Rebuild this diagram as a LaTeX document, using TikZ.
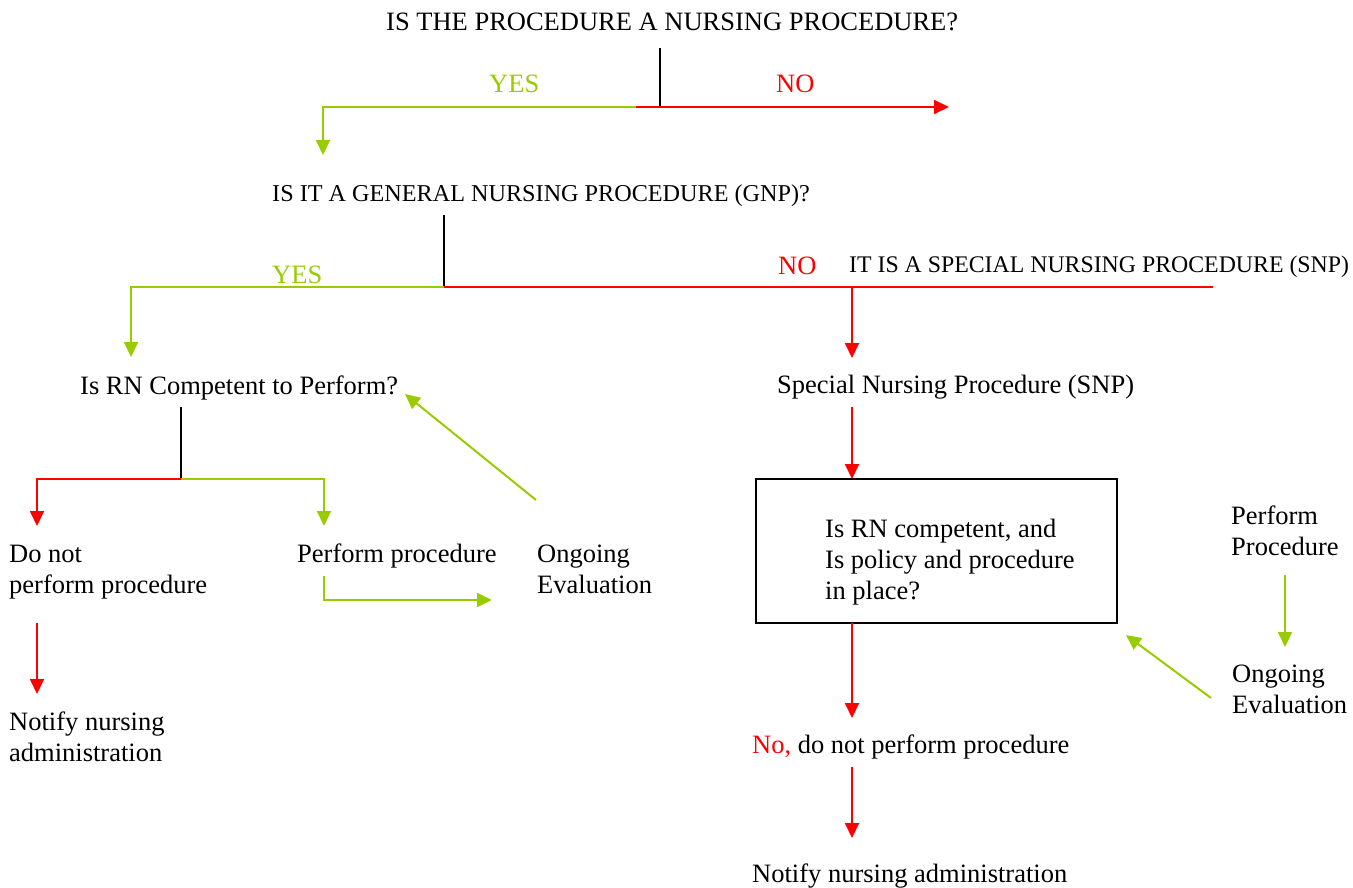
\documentclass[tikz,border=0pt]{standalone}
\usepackage{fontspec}
\setmainfont{Liberation Serif}
\usetikzlibrary{arrows.meta}
\definecolor{okgreen}{HTML}{99CC00}
\definecolor{nored}{HTML}{FF0000}
\newcommand{\lines}[1]{\begin{tabular}[t]{@{}l@{}}#1\end{tabular}}
\begin{document}
\begin{tikzpicture}[x=1pt,y=-1pt,
  lbl/.style={font=\fontsize{26.5}{31}\selectfont, inner sep=0pt, anchor=base west},
  smalllbl/.style={lbl, font=\fontsize{24.2}{29}\selectfont},
  tinylbl/.style={lbl, font=\fontsize{23.8}{28}\selectfont},
  yeslbl/.style={lbl, text=okgreen},
  nolbl/.style={lbl, text=nored},
  stem/.style={draw=black, line width=2pt},
  yesline/.style={draw=okgreen, line width=2pt},
  noline/.style={draw=nored, line width=2pt},
  tip/.style={-{Triangle[length=15pt,width=14pt]}},
  qbox/.style={draw=black, line width=2pt}]
\useasboundingbox (0,0) rectangle (1353,888);

% texts
\node[lbl] (title) at (386,31) {IS THE PROCEDURE A NURSING PROCEDURE?};
\node[yeslbl] (yes1) at (489,93) {YES};
\node[nolbl] (no1) at (776,93) {NO};
\node[smalllbl] (gnp) at (272,201) {IS IT A GENERAL NURSING PROCEDURE (GNP)?};
\node[yeslbl] (yes2) at (272,283) {YES};
\node[nolbl] (no2) at (778,274) {NO};
\node[tinylbl] (snpt) at (849,272) {IT IS A SPECIAL NURSING PROCEDURE (SNP)};
\node[lbl] (isrn) at (80,394) {Is RN Competent to Perform?};
\node[lbl] (spec) at (777,393) {Special Nursing Procedure (SNP)};
\node[lbl] (donot) at (9,562) {\lines{Do not\\perform procedure}};
\node[lbl] (perf) at (297,562) {Perform procedure};
\node[lbl] (ong1) at (537,562) {\lines{Ongoing\\Evaluation}};
\node[lbl] (notify1) at (9,730) {\lines{Notify nursing\\administration}};
\node[lbl] (boxtext) at (825,537) {\lines{Is RN competent, and\\Is policy and procedure\\in place?}};
\node[lbl] (perf2) at (1231,524) {\lines{Perform\\Procedure}};
\node[lbl] (ong2) at (1232,682) {\lines{Ongoing\\Evaluation}};
\node[lbl] (nodo) at (752,753) {\textcolor{nored}{No,} do not perform procedure};
\node[lbl] (notify2) at (752,882) {Notify nursing administration};

% box
\draw[qbox] (756,479) rectangle (1117,623);

% coordinates
\coordinate (t0) at (660,48);
\coordinate (j1) at (660,107);
\coordinate (s1) at (636,107);
\coordinate (c1) at (323,107);
\coordinate (e1) at (323,155);
\coordinate (e2) at (949,107);
\coordinate (g0) at (444,215);
\coordinate (j2) at (444,287);
\coordinate (c2) at (131,287);
\coordinate (e3) at (131,357);
\coordinate (r2) at (1213,287);
\coordinate (k2) at (852,287);
\coordinate (e4) at (852,358);
\coordinate (s5) at (852,407);
\coordinate (e5) at (852,479);
\coordinate (i0) at (181,407);
\coordinate (j3) at (181,479);
\coordinate (c3l) at (37,479);
\coordinate (e6) at (37,526);
\coordinate (c3r) at (324,479);
\coordinate (e7) at (324,526);
\coordinate (p0) at (324,576);
\coordinate (p1) at (324,600);
\coordinate (e8) at (492,600);
\coordinate (o1) at (536,500);
\coordinate (e9) at (405,394);
\coordinate (d0) at (37,623);
\coordinate (e10) at (37,694);
\coordinate (b0) at (852,623);
\coordinate (e11) at (852,718);
\coordinate (n0) at (852,767);
\coordinate (e12) at (852,838);
\coordinate (pp0) at (1285,575);
\coordinate (e13) at (1285,647);
\coordinate (o2) at (1211,698);
\coordinate (e14) at (1126,635);

% connectors
\draw[stem] (t0) -- (j1);
\draw[yesline, tip] (s1) -- (c1) -- (e1);
\draw[noline, tip] (s1) -- (e2);
\draw[stem] (g0) -- (j2);
\draw[yesline, tip] (j2) -- (c2) -- (e3);
\draw[noline] (j2) -- (r2);
\draw[noline, tip] (k2) -- (e4);
\draw[noline, tip] (s5) -- (e5);
\draw[stem] (i0) -- (j3);
\draw[noline, tip] (j3) -- (c3l) -- (e6);
\draw[yesline, tip] (j3) -- (c3r) -- (e7);
\draw[yesline, tip] (p0) -- (p1) -- (e8);
\draw[yesline, tip] (o1) -- (e9);
\draw[noline, tip] (d0) -- (e10);
\draw[noline, tip] (b0) -- (e11);
\draw[noline, tip] (n0) -- (e12);
\draw[yesline, tip] (pp0) -- (e13);
\draw[yesline, tip] (o2) -- (e14);
\end{tikzpicture}
\end{document}
